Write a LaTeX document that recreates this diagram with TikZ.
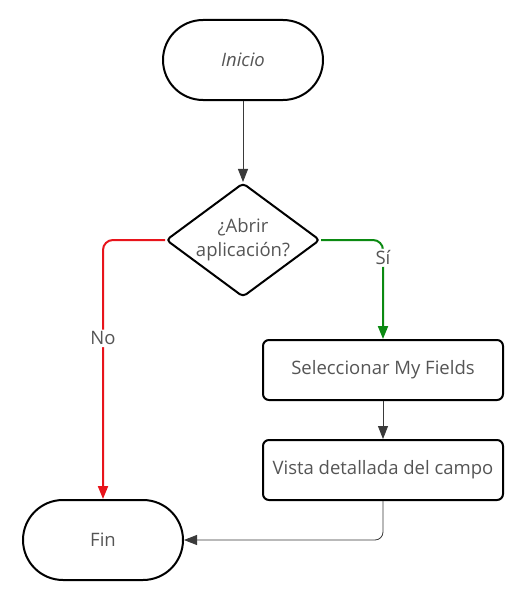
\documentclass[tikz,border=0pt]{standalone}
\usepackage{fontspec}
\setmainfont{Open Sans}
\usetikzlibrary{arrows.meta,shapes.geometric}
\definecolor{txtgray}{HTML}{555555}
\definecolor{linegray}{HTML}{3A3A3A}
\definecolor{nored}{HTML}{E8141B}
\definecolor{sigreen}{HTML}{0B8A12}
\begin{document}
\begin{tikzpicture}[x=1pt,y=-1pt,
  every node/.style={font=\fontsize{18.5}{24}\selectfont, text=txtgray},
  term/.style={draw=black, line width=2pt, rounded corners=40pt, minimum width=160pt, minimum height=80pt, inner sep=0pt},
  proc/.style={draw=black, line width=2pt, rounded corners=6pt, minimum width=240pt, minimum height=60pt, inner sep=0pt},
  decis/.style={draw=black, line width=2pt, diamond, rounded corners=4pt, minimum width=154pt, minimum height=114pt, inner sep=0pt},
  tip/.style={-{Triangle[length=13pt,width=10pt]}},
  conn/.style={tip, draw=linegray, line width=0.8pt, rounded corners=8pt},
  colconn/.style={tip, line width=2pt, rounded corners=10pt},
  lbl/.style={fill=white, inner sep=2pt}
]
\useasboundingbox (0,0) rectangle (530,602);
\node[term] (inicio) at (243,60) {\itshape Inicio};
\node[decis] (dec) at (243,240) {};
\node[align=center, inner sep=0pt] (dectxt) at (dec.center) {¿Abrir\\aplicación?};
\node[proc] (sel) at (383,370) {Seleccionar My Fields};
\node[proc] (vista) at (383,470) {Vista detallada del campo};
\node[term] (fin) at (103,540) {Fin};
\draw[conn] (inicio) -- (dec);
\draw[colconn, draw=nored, color=nored] (dec.west) -| node[lbl, pos=0.69] {No} (fin.north);
\draw[colconn, draw=sigreen, color=sigreen] (dec.east) -| node[lbl, pos=0.59] {Sí} (sel.north);
\draw[conn] (sel) -- (vista);
\draw[conn] (vista.south) |- (fin.east);
\end{tikzpicture}
\end{document}
